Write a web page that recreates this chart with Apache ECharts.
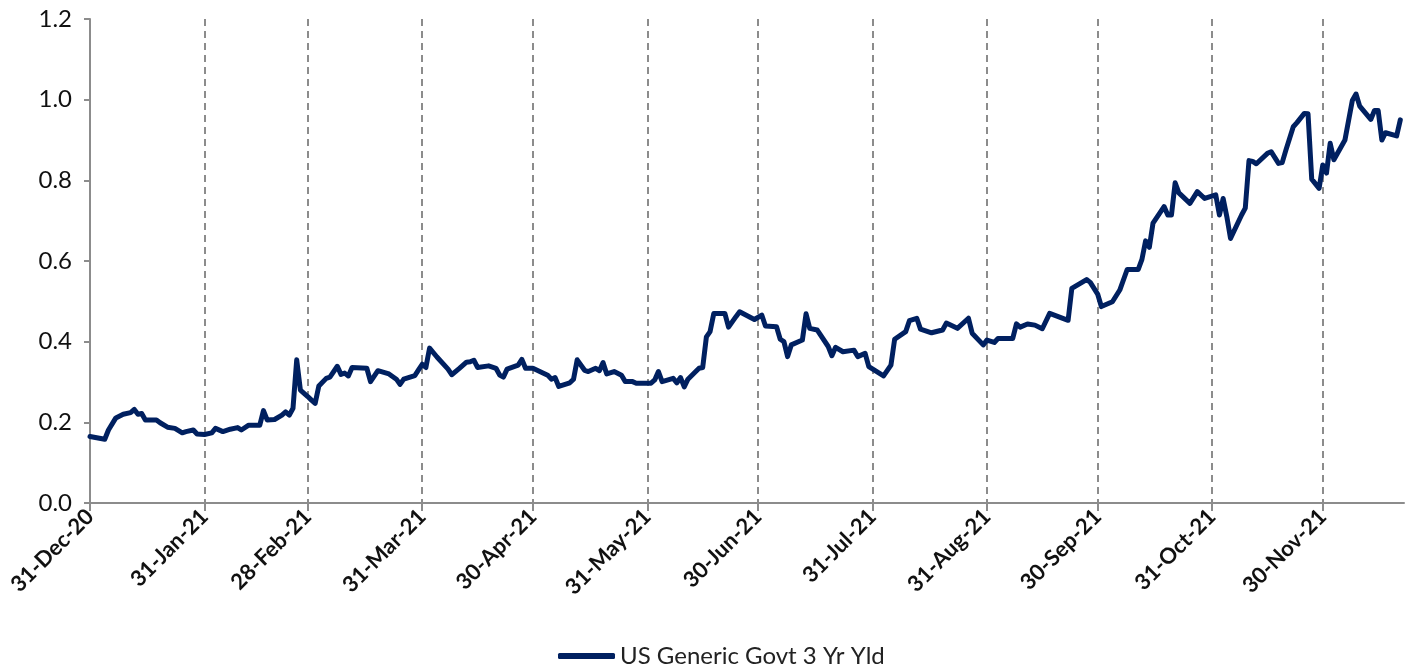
<!DOCTYPE html>
<html>
<head>
<meta charset="utf-8">
<script src="https://cdn.jsdelivr.net/npm/echarts@6/dist/echarts.min.js"></script>
<style>
html,body{margin:0;padding:0;background:#fff;}
#chart{width:1411px;height:666px;}
</style>
</head>
<body>
<div id="chart"></div>
<script>
const seriesName = 'US Generic Govt 3 Yr Yld';

const dates = [
'2020-12-31','2021-01-04','2021-01-05','2021-01-07','2021-01-09','2021-01-11','2021-01-12','2021-01-13','2021-01-14','2021-01-15','2021-01-18','2021-01-19','2021-01-21','2021-01-23','2021-01-25','2021-01-26','2021-01-28','2021-01-29','2021-01-31',
'2021-02-02','2021-02-03','2021-02-05','2021-02-07','2021-02-09','2021-02-10','2021-02-12','2021-02-15','2021-02-16','2021-02-17','2021-02-19','2021-02-21','2021-02-22','2021-02-23','2021-02-24','2021-02-25','2021-02-26','2021-02-28',
'2021-03-01','2021-03-02','2021-03-03','2021-03-05','2021-03-06','2021-03-08','2021-03-09','2021-03-10','2021-03-11','2021-03-12','2021-03-16','2021-03-17','2021-03-19','2021-03-22','2021-03-24','2021-03-25','2021-03-26','2021-03-29','2021-03-30','2021-03-31',
'2021-04-01','2021-04-02','2021-04-04','2021-04-07','2021-04-08','2021-04-10','2021-04-12','2021-04-13','2021-04-14','2021-04-15','2021-04-18','2021-04-20','2021-04-21','2021-04-22','2021-04-23','2021-04-26','2021-04-27','2021-04-28','2021-04-30',
'2021-05-04','2021-05-05','2021-05-06','2021-05-07','2021-05-10','2021-05-11','2021-05-12','2021-05-14','2021-05-15','2021-05-17','2021-05-18','2021-05-19','2021-05-20','2021-05-22','2021-05-24','2021-05-25','2021-05-27','2021-05-28',
'2021-06-01','2021-06-02','2021-06-03','2021-06-04','2021-06-07','2021-06-08','2021-06-09','2021-06-10','2021-06-11','2021-06-14','2021-06-15','2021-06-16','2021-06-17','2021-06-18','2021-06-21','2021-06-22','2021-06-24','2021-06-25','2021-06-29',
'2021-07-01','2021-07-02','2021-07-05','2021-07-06','2021-07-07','2021-07-08','2021-07-09','2021-07-12','2021-07-13','2021-07-14','2021-07-16','2021-07-19','2021-07-20','2021-07-21','2021-07-23','2021-07-26','2021-07-27','2021-07-29','2021-07-30',
'2021-08-03','2021-08-05','2021-08-06','2021-08-09','2021-08-10','2021-08-12','2021-08-13','2021-08-16','2021-08-19','2021-08-20','2021-08-23','2021-08-26','2021-08-27','2021-08-30','2021-08-31',
'2021-09-02','2021-09-03','2021-09-07','2021-09-08','2021-09-09','2021-09-11','2021-09-13','2021-09-15','2021-09-17','2021-09-22','2021-09-23','2021-09-27','2021-09-28','2021-09-30',
'2021-10-01','2021-10-04','2021-10-06','2021-10-08','2021-10-11','2021-10-12','2021-10-13','2021-10-14','2021-10-15','2021-10-18','2021-10-19','2021-10-20','2021-10-21','2021-10-22','2021-10-25','2021-10-27','2021-10-29',
'2021-11-01','2021-11-02','2021-11-03','2021-11-04','2021-11-05','2021-11-08','2021-11-09','2021-11-10','2021-11-11','2021-11-12','2021-11-15','2021-11-16','2021-11-18','2021-11-19','2021-11-20','2021-11-22','2021-11-23','2021-11-25','2021-11-26','2021-11-27','2021-11-29','2021-11-30',
'2021-12-01','2021-12-02','2021-12-03','2021-12-06','2021-12-08','2021-12-09','2021-12-10','2021-12-13','2021-12-14','2021-12-15','2021-12-16','2021-12-17','2021-12-20','2021-12-21'
];

const yields = [
0.165,0.158,0.181,0.211,0.220,0.224,0.232,0.220,0.222,0.206,0.206,0.199,0.188,0.185,0.174,0.177,0.181,0.171,0.170,
0.174,0.185,0.177,0.183,0.187,0.181,0.193,0.193,0.229,0.206,0.207,0.218,0.226,0.218,0.235,0.355,0.280,0.264,
0.255,0.247,0.290,0.309,0.312,0.339,0.319,0.322,0.315,0.336,0.334,0.301,0.328,0.320,0.307,0.294,0.307,0.316,0.330,0.344,
0.336,0.384,0.362,0.332,0.318,0.333,0.349,0.350,0.354,0.336,0.340,0.334,0.317,0.312,0.332,0.342,0.356,0.334,0.334,
0.317,0.307,0.311,0.289,0.298,0.307,0.355,0.329,0.326,0.334,0.328,0.348,0.320,0.326,0.317,0.301,0.301,0.297,
0.297,0.305,0.326,0.301,0.309,0.298,0.311,0.288,0.307,0.334,0.336,0.412,0.425,0.470,0.470,0.436,0.462,0.474,0.455,
0.466,0.439,0.437,0.406,0.400,0.363,0.392,0.404,0.469,0.433,0.429,0.388,0.365,0.386,0.375,0.379,0.363,0.371,0.338,
0.315,0.342,0.406,0.425,0.452,0.458,0.431,0.422,0.429,0.446,0.433,0.458,0.421,0.392,0.404,
0.398,0.408,0.408,0.444,0.436,0.444,0.441,0.432,0.470,0.453,0.532,0.554,0.547,0.518,
0.487,0.499,0.528,0.579,0.579,0.604,0.650,0.634,0.694,0.735,0.714,0.714,0.794,0.769,0.743,0.772,0.755,
0.764,0.714,0.755,0.710,0.656,0.714,0.731,0.849,0.847,0.841,0.867,0.871,0.842,0.844,0.875,0.933,0.943,0.966,0.965,0.803,0.780,0.838,
0.818,0.892,0.851,0.900,0.998,1.014,0.984,0.951,0.973,0.973,0.900,0.918,0.910,0.950
];

const tickDates = ['2020-12-31','2021-01-31','2021-02-28','2021-03-31','2021-04-30','2021-05-31','2021-06-30','2021-07-31','2021-08-31','2021-09-30','2021-10-31','2021-11-30'];
const tickLabels = ['31-Dec-20','31-Jan-21','28-Feb-21','31-Mar-21','30-Apr-21','31-May-21','30-Jun-21','31-Jul-21','31-Aug-21','30-Sep-21','31-Oct-21','30-Nov-21'];
const axisEnd = '2021-12-22';

// day number counted from the first tick date (calendar-day scale, as in a spreadsheet date axis)
function dayNum(s){
  const p = s.split('-').map(Number);
  const q = tickDates[0].split('-').map(Number);
  return Math.round((Date.UTC(p[0],p[1]-1,p[2]) - Date.UTC(q[0],q[1]-1,q[2])) / 86400000);
}
const tickDays = tickDates.map(dayNum);
const points = dates.map((d,i)=>[dayNum(d), yields[i]]);

const chart = echarts.init(document.getElementById('chart'), null, {renderer:'canvas'});
const FONT = 'Lato';
const NAVY = '#002060';
chart.setOption({
  animation:false,
  backgroundColor:'#fff',
  grid:{left:90, right:7, top:19, bottom:163, containLabel:false},
  legend:{
    top:639, left:553,
    icon:'roundRect',
    itemWidth:57, itemHeight:6, itemGap:4,
    textStyle:{fontFamily:FONT, fontSize:24, color:'#222'},
    data:[{name:seriesName, itemStyle:{color:NAVY}}]
  },
  xAxis:{
    type:'value',
    min: tickDays[0], max: dayNum(axisEnd),
    axisLine:{show:true, onZero:false, lineStyle:{color:'#8c8c8c', width:2}},
    axisTick:{show:true, customValues:tickDays, length:8, lineStyle:{color:'#8c8c8c', width:2}},
    axisLabel:{
      customValues:tickDays, rotate:45, margin:10,
      fontFamily:FONT, fontWeight:'bold', fontSize:22, color:'#111',
      formatter:function(v){ const i = tickDays.indexOf(Math.round(v)); return i>=0 ? tickLabels[i] : ''; }
    },
    splitLine:{show:true, lineStyle:{color:'#8c8c8c', width:2, type:[7,5]}}
  },
  yAxis:{
    type:'value', min:0, max:1.2, interval:0.2,
    axisLine:{show:true, lineStyle:{color:'#8c8c8c', width:2}},
    axisTick:{show:true, length:6, lineStyle:{color:'#8c8c8c', width:2}},
    axisLabel:{fontFamily:FONT, fontSize:24, color:'#111', margin:18, formatter:v=>v.toFixed(1)},
    splitLine:{show:false}
  },
  series:[{
    name:seriesName, type:'line', data:points,
    showSymbol:false, symbol:'none',
    lineStyle:{color:NAVY, width:5, join:'round', cap:'round'},
    itemStyle:{color:NAVY}
  }]
});
</script>
</body>
</html>
